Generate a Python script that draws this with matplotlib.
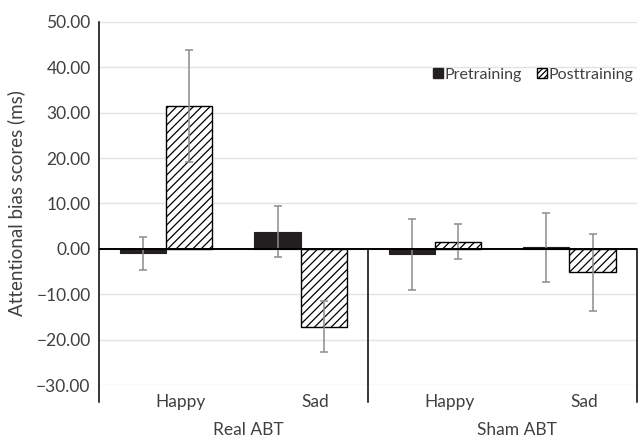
import numpy as np
import matplotlib
matplotlib.use("Agg")
import matplotlib.pyplot as plt
from matplotlib.patches import Patch

# ---- data ----
groups = ["Real ABT", "Sham ABT"]
emotions = ["Happy", "Sad", "Happy", "Sad"]
pre_mean = [-1.0, 3.8, -1.2, 0.4]
pre_err = [3.6, 5.6, 7.8, 7.6]
post_mean = [31.5, -17.2, 1.6, -5.2]
post_err = [12.3, 5.6, 3.9, 8.5]
yticks = [-30, -20, -10, 0, 10, 20, 30, 40, 50]

plt.rcParams["font.family"] = ["Lato", "DejaVu Sans"]
plt.rcParams["hatch.linewidth"] = 0.9

TXT = "#404040"
fig = plt.figure(figsize=(6.38, 4.38), dpi=100)
ax = fig.add_axes([0.155, 0.121, 0.843, 0.829])

x = np.arange(len(emotions))
w = 0.343
ekw = dict(ecolor="#8c8c8c", elinewidth=1.1, capsize=3, capthick=1.1)
ax.bar(x - w / 2, pre_mean, w, color="#231f20", edgecolor="#231f20",
       linewidth=0.8, yerr=pre_err, error_kw=ekw, zorder=3)
ax.bar(x + w / 2, post_mean, w, color="white", edgecolor="black",
       hatch="////", linewidth=1.0, yerr=post_err, error_kw=ekw, zorder=3)

ax.set_xlim(-0.5, len(emotions) - 0.5)
ax.set_ylim(-30, 50)
ax.set_yticks(yticks)
ax.set_yticklabels([f"{v:.2f}".replace("-", "\u2212") for v in yticks],
                   fontsize=12.5, color=TXT)
ax.tick_params(axis="y", length=0, pad=6)
ax.set_xticks([])
ax.yaxis.grid(True, color="#e3e3e3", linewidth=1.0, zorder=0)
ax.set_axisbelow(True)
for s in ax.spines.values():
    s.set_visible(False)

# zero line and category dividers
ax.axhline(0, color="black", linewidth=1.4, zorder=4)
xt = ax.get_xaxis_transform()
ax.plot([-0.5, -0.5], [-0.047, 1.0], transform=xt, color="black",
        linewidth=1.1, clip_on=False, zorder=4)
y0 = (0 - (-30)) / 80.0
for xd in [1.5, 3.5]:
    ax.plot([xd, xd], [-0.047, y0], transform=xt, color="black",
            linewidth=1.1, clip_on=False, zorder=4)

# category labels
off = 0.11
for xi, lab in zip(x, emotions):
    ax.text(xi + off, -0.047, lab, transform=xt, ha="center", va="center",
            fontsize=12.5, color=TXT)
for gi, g in enumerate(groups):
    ax.text(gi * 2 + 0.5 + off, -0.124, g, transform=xt, ha="center",
            va="center", fontsize=12.5, color=TXT)

ax.set_ylabel("Attentional bias scores (ms)", fontsize=13.5, color=TXT,
              labelpad=8)

handles = [Patch(facecolor="#231f20", edgecolor="#231f20", label="Pretraining"),
           Patch(facecolor="white", edgecolor="black", hatch="//////",
                 label="Posttraining")]
ax.legend(handles=handles, loc="upper right", bbox_to_anchor=(1.0, 0.883),
          ncol=2, frameon=False, fontsize=11.5, handlelength=0.6,
          handleheight=0.6, handletextpad=0.1, columnspacing=1.0,
          labelcolor=TXT, borderaxespad=0.0, borderpad=0.2)

fig.savefig("out.png", dpi=100)
